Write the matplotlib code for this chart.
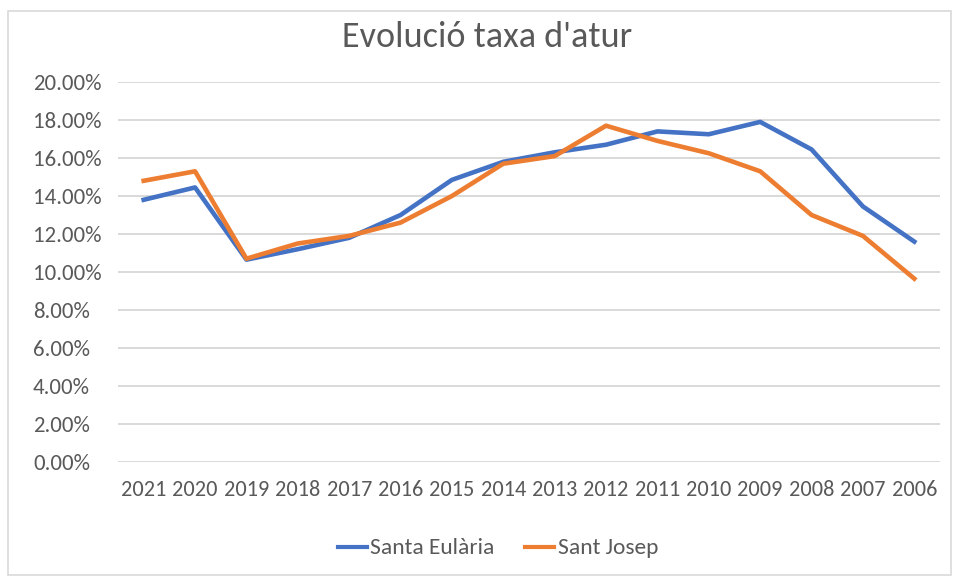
import matplotlib
matplotlib.use("Agg")
import matplotlib.pyplot as plt
from matplotlib.ticker import PercentFormatter
from matplotlib.patches import Rectangle
from matplotlib import font_manager

years = ["2021", "2020", "2019", "2018", "2017", "2016", "2015", "2014",
         "2013", "2012", "2011", "2010", "2009", "2008", "2007", "2006"]
santa_eularia = [13.8, 14.45, 10.65, 11.2, 11.8, 13.0, 14.85, 15.8,
                 16.3, 16.7, 17.4, 17.25, 17.9, 16.45, 13.45, 11.6]
sant_josep = [14.8, 15.3, 10.7, 11.5, 11.9, 12.6, 14.0, 15.7,
              16.1, 17.7, 16.9, 16.25, 15.3, 13.0, 11.9, 9.65]
y_ticks = [0, 2, 4, 6, 8, 10, 12, 14, 16, 18, 20]

names = {f.name for f in font_manager.fontManager.ttflist}
fam = [f for f in ["Carlito", "Liberation Sans Narrow", "Liberation Sans", "DejaVu Sans"] if f in names]
plt.rcParams['font.family'] = fam

txt = "#595959"
W, H = 954, 584
fig = plt.figure(figsize=(W / 100, H / 100), dpi=100)
fig.patches.append(Rectangle((8 / W, 1 - 575 / H), (951 - 8) / W, (575 - 11) / H,
                             transform=fig.transFigure, fill=False,
                             edgecolor="#D9D9D9", linewidth=1.2))

ax_left, ax_right = 118, 940
ax = fig.add_axes([ax_left / W, 1 - 462 / H, (ax_right - ax_left) / W, (462 - 82) / H])
x = list(range(len(years)))
ax.plot(x, santa_eularia, color="#4472C4", linewidth=3.3, label="Santa Eulària",
        solid_joinstyle="round")
ax.plot(x, sant_josep, color="#ED7D31", linewidth=3.3, label="Sant Josep",
        solid_joinstyle="round")

ax.set_xlim(-0.5, len(years) - 0.5)
ax.set_ylim(0, 20)
ax.set_yticks(y_ticks)
ax.yaxis.set_major_formatter(PercentFormatter(decimals=2))
ax.set_xticks(x)
ax.set_xticklabels(years)
ax.grid(axis="y", color="#D9D9D9", linewidth=1.4)
ax.set_axisbelow(True)
for s in ax.spines.values():
    s.set_visible(False)
ax.tick_params(axis="both", length=0, colors=txt)
ax.tick_params(axis="y", labelsize=16.5, pad=(ax_left - 33) * 0.72)
ax.tick_params(axis="x", labelsize=16, pad=13)
for lab in ax.get_yticklabels():
    lab.set_horizontalalignment("left")

fig.text(0.511, 1 - 47 / H, "Evolució taxa d'atur", ha="center", va="baseline",
         fontsize=26, color=txt)

fig.legend(loc="center", bbox_to_anchor=(498 / W, 1 - 548 / H), ncol=2, frameon=False,
           fontsize=16.8, labelcolor=txt, handlelength=1.25, handletextpad=0.15,
           columnspacing=1.3, borderpad=0, handleheight=0.5)
for h in fig.legends[0].legend_handles:
    h.set_linewidth(3.0)

fig.savefig("out.png", dpi=100)
